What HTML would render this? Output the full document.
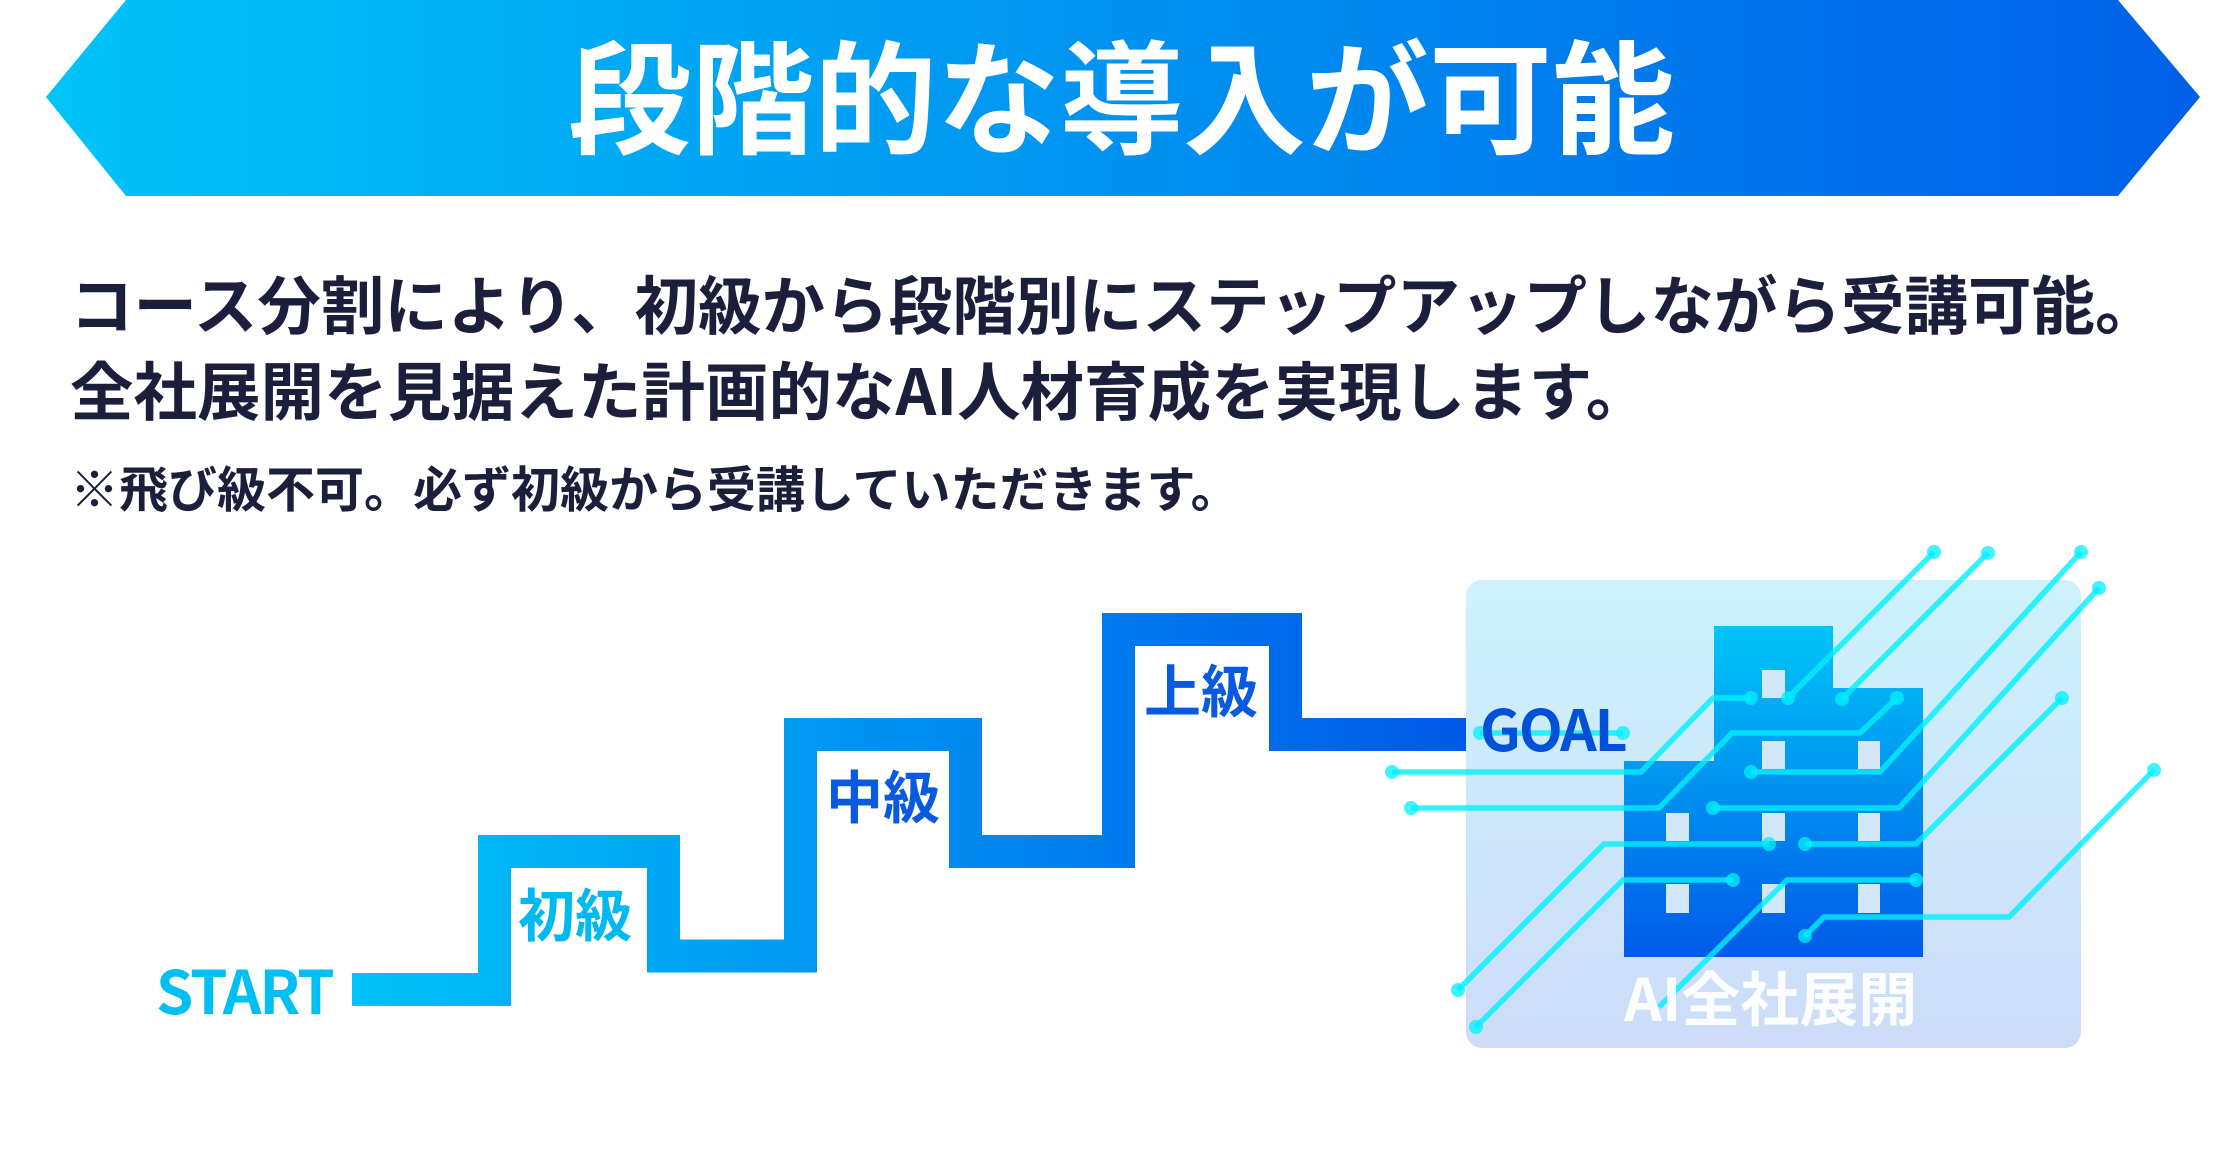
<!DOCTYPE html>
<html><head><meta charset="utf-8"><style>
html,body{margin:0;padding:0;background:#fff;}
body{width:2232px;height:1161px;position:relative;overflow:hidden;font-family:"Liberation Sans","Noto Sans CJK JP",sans-serif;}
.t{position:absolute;white-space:nowrap;font-family:"Noto Sans CJK JP","Liberation Sans",sans-serif;font-weight:700;}
</style></head><body>
<svg width="2232" height="1161" style="position:absolute;left:0;top:0">
<defs>
<linearGradient id="ban" x1="0" x2="1" y1="0" y2="0"><stop offset="0" stop-color="#00c4f8"/><stop offset="1" stop-color="#0060e8"/></linearGradient>
<linearGradient id="stair" gradientUnits="userSpaceOnUse" x1="352" x2="1471" y1="0" y2="0"><stop offset="0" stop-color="#00c4f8"/><stop offset="1" stop-color="#0058e8"/></linearGradient>
<linearGradient id="panel" x1="0" x2="0" y1="0" y2="1"><stop offset="0" stop-color="#cdf2fd"/><stop offset="1" stop-color="#cddcf8"/></linearGradient>
<linearGradient id="bld" gradientUnits="userSpaceOnUse" x1="0" x2="0" y1="626" y2="957"><stop offset="0" stop-color="#00c6f8"/><stop offset="1" stop-color="#005ae8"/></linearGradient>
</defs>
<polygon points="46,97 126,0 2118,0 2200,97 2118,196 126,196" fill="url(#ban)"/>
<path d="M352,989.5 H494.5 V851.5 H663.5 V956 H800.5 V734.5 H965.5 V851.5 H1118.5 V629.5 H1285.5 V734.5 H1471" fill="none" stroke="url(#stair)" stroke-width="33" stroke-linejoin="miter"/>
<rect x="1466" y="580" width="615" height="468" rx="16" fill="url(#panel)"/>
<path d="M1624,957 V761 H1714 V626 H1833 V688 H1923 V957 Z" fill="url(#bld)"/>
<g fill="#d2e8f8">
<rect x="1762" y="670" width="23" height="28"/>
<rect x="1762" y="741" width="23" height="28"/><rect x="1858" y="741" width="22" height="28"/>
<rect x="1666" y="813" width="23" height="28"/><rect x="1762" y="813" width="23" height="28"/><rect x="1858" y="813" width="22" height="28"/>
<rect x="1666" y="884" width="23" height="29"/><rect x="1762" y="884" width="23" height="29"/><rect x="1858" y="884" width="22" height="29"/>
</g>
<g stroke="#00f0ff" stroke-width="5.5" fill="none" opacity="0.8">
<path d="M1934,552 L1788,698"/>
<path d="M1988,553 L1842,699"/>
<path d="M2081,552 L1880,772 H1751"/>
<path d="M2099,588 L1899,808 H1713"/>
<path d="M2062,698 L1916,844 H1805"/>
<path d="M2154,770 L2009,917 H1824 L1805,936"/>
<path d="M1392,772 H1641 L1713,698 H1751"/>
<path d="M1411,808 H1659 L1732,733 H1860 L1897,698"/>
<path d="M1458,990 L1604,844 H1769"/>
<path d="M1476,1027 L1623,880 H1733"/>
<path d="M1659,1007 L1787,880 H1916"/>
<path d="M1480,733 H1623"/>
</g>
<g fill="#00f0ff" opacity="0.75">
<circle cx="1934" cy="552" r="7"/><circle cx="1788" cy="698" r="7"/>
<circle cx="1988" cy="553" r="7"/><circle cx="1842" cy="699" r="7"/>
<circle cx="2081" cy="552" r="7"/><circle cx="1751" cy="772" r="7"/>
<circle cx="2099" cy="588" r="7"/><circle cx="1713" cy="808" r="7"/>
<circle cx="2062" cy="698" r="7"/><circle cx="1805" cy="844" r="7"/>
<circle cx="2154" cy="770" r="7"/><circle cx="1805" cy="936" r="7"/>
<circle cx="1392" cy="772" r="7"/><circle cx="1751" cy="698" r="7"/>
<circle cx="1411" cy="808" r="7"/><circle cx="1897" cy="698" r="7"/>
<circle cx="1458" cy="990" r="7"/><circle cx="1769" cy="844" r="7"/>
<circle cx="1476" cy="1027" r="7"/><circle cx="1733" cy="880" r="7"/>
<circle cx="1916" cy="880" r="7"/>
<circle cx="1480" cy="733" r="7"/><circle cx="1623" cy="733" r="7"/>
</g>
</svg>
<div class="t" style="left:568px;top:30px;font-size:123px;line-height:123px;color:#fff;">段階的な導入が可能</div>
<div class="t" style="left:70px;top:270px;font-size:63.5px;line-height:64px;color:#1b1f3b;">コース分割により、初級から段階別にステップアップしながら受講可能。</div>
<div class="t" style="left:70px;top:356px;font-size:63.5px;line-height:64px;color:#1b1f3b;">全社展開を見据えた計画的なAI人材育成を実現します。</div>
<div class="t" style="left:70px;top:462px;font-size:49px;line-height:50px;color:#1b1f3b;">※飛び級不可。必ず初級から受講していただきます。</div>
<div class="t" style="left:156px;top:956px;font-size:60px;line-height:66px;color:#00bff5;letter-spacing:-2px;">START</div>
<div class="t" style="left:518px;top:882px;font-size:57px;line-height:60px;color:#00b8f2;">初級</div>
<div class="t" style="left:826px;top:764px;font-size:57px;line-height:60px;color:#0a5ae0;">中級</div>
<div class="t" style="left:1144px;top:658px;font-size:57px;line-height:60px;color:#0a5ae0;">上級</div>
<div class="t" style="left:1480px;top:696px;font-size:57px;line-height:62px;color:#0050d8;letter-spacing:-2px;">GOAL</div>
<div class="t" style="left:1624px;top:963px;font-size:59px;line-height:66px;color:rgba(255,255,255,0.92);">AI全社展開</div>
</body></html>
